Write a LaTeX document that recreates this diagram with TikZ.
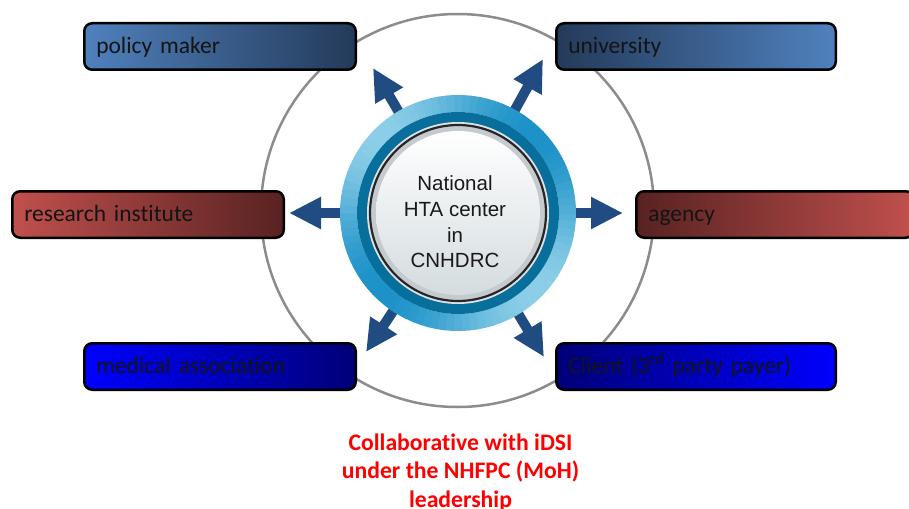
\documentclass[tikz,border=0pt]{standalone}
\usepackage{fontspec}
\newfontfamily\carlito[Ligatures={NoCommon}]{Carlito}
\newfontfamily\arialf{Liberation Sans}
\usetikzlibrary{arrows.meta,calc}
\definecolor{orbitgray}{RGB}{140,140,140}
\definecolor{arrowblue}{RGB}{32,76,130}
\definecolor{ringlight}{RGB}{140,206,231}
\definecolor{ringdark}{RGB}{28,146,200}
\definecolor{ringteal}{RGB}{8,110,155}
\definecolor{ringpale}{RGB}{220,226,229}
\definecolor{discgray}{RGB}{196,202,205}
\definecolor{discbottom}{RGB}{212,220,223}
\definecolor{bluelight}{RGB}{79,129,189}
\definecolor{bluedark}{RGB}{36,58,90}
\definecolor{redlight}{RGB}{192,80,77}
\definecolor{reddark}{RGB}{88,34,34}
\definecolor{purebright}{RGB}{0,0,255}
\definecolor{purenavy}{RGB}{0,0,120}
\tikzset{
  boxnode/.style={draw=black, line width=2.5pt, rounded corners=8pt,
    minimum height=46.5pt, inner xsep=12pt, inner ysep=0pt, align=left,
    text width=#1, text height=17pt, text depth=3pt, text=black!92,
    font=\carlito\fontsize{23.5}{28}\selectfont},
  hubarrow/.style={line width=10pt, draw=arrowblue, -{Triangle[width=30pt,length=32pt]}},
}
\begin{document}
\begin{tikzpicture}[x=1pt,y=-1pt]
\useasboundingbox (0,0) rectangle (909,508);
\node[circle, minimum size=236pt, inner sep=0pt] (hub) at (458,213) {};
% orbit
\coordinate (orbitc) at (457.5,210.5);
\draw[orbitgray, line width=2.5pt] (orbitc) circle (196.5);
% arrow tips
\coordinate (tUL) at (373,68);
\coordinate (tUR) at (543,59);
\coordinate (tL) at (289,213);
\coordinate (tR) at (623,213);
\coordinate (tDL) at (366,352);
\coordinate (tDR) at (544,357);
\foreach \t in {tUL,tUR,tL,tR,tDL,tDR}
  \draw[hubarrow] (hub.center) -- (\t);
% outer shaded ring
\foreach \a in {0,4,...,356} {
  \pgfmathsetmacro\mixv{50+50*cos(2*(\a+2-45))}
  \draw[line width=17pt, color=ringlight!\mixv!ringdark]
    ($(hub.center)+(\a:109.5)$) arc[start angle=\a, end angle=\a+4.6, radius=109.5];
}
\fill[ringteal] (hub.center) circle (101);
\fill[ringpale] (hub.center) circle (91);
\fill[discgray] (hub.center) circle (88);
\shade[top color=white, bottom color=discbottom] (hub.center) circle (82);
\draw[black!85, line width=2.2pt] (hub.center) circle (88);
\node[font=\arialf\fontsize{20.5}{25.7}\selectfont, align=center, text=black!90]
  (hubtext) at (455,222) {National\\HTA center\\in\\CNHDRC};
% boxes
\node[boxnode=247.5pt, left color=bluelight, right color=bluedark] (policy) at (220,46.5) {policy maker};
\node[boxnode=255.5pt, left color=bluedark, right color=bluelight] (univ) at (696,46.5) {university};
\node[boxnode=247.5pt, left color=redlight, right color=reddark] (research) at (148,214.5) {research institute};
\node[boxnode=253.5pt, left color=reddark, right color=redlight] (agency) at (775,214.5) {agency};
\node[boxnode=247.5pt, left color=purebright, right color=purenavy] (medical) at (220,366.5) {medical association};
\node[boxnode=255.5pt, left color=purenavy, right color=purebright] (client) at (696,366.5) {Client (3\textsuperscript{rd} party payer)};
% note
\node[font=\carlito\bfseries\fontsize{23.7}{28.5}\selectfont, text=red, align=center]
  (note) at (460.5,472.5) {Collaborative with iDSI\\under the NHFPC (MoH)\\leadership};
\end{tikzpicture}
\end{document}
